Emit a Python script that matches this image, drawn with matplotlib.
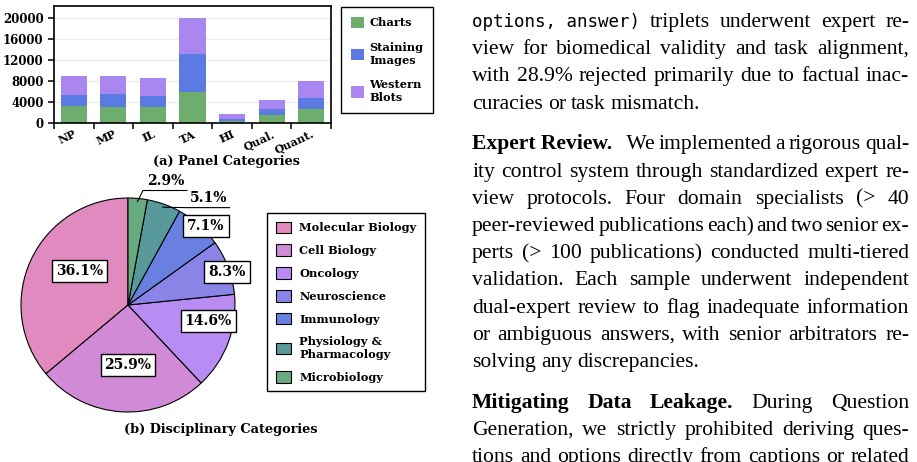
import numpy as np
import matplotlib
matplotlib.use('Agg')
import matplotlib.pyplot as plt

# Panel categories (stacked bars)
categories = ['NP', 'MP', 'IL', 'TA', 'HI', 'Qual.', 'Quant.']
charts = [3200, 3000, 3000, 5850, 300, 1450, 2600]
staining = [2100, 2500, 2100, 7250, 400, 1150, 2100]
western = [3600, 3400, 3400, 6900, 950, 1700, 3250]
panel_labels = ['Charts', 'Staining\nImages', 'Western\nBlots']
panel_colors = ['#6dae6f', '#5b7be3', '#a986f0']

# Disciplinary categories (pie)
disciplines = ['Molecular Biology', 'Cell Biology', 'Oncology', 'Neuroscience',
               'Immunology', 'Physiology &\nPharmacology', 'Microbiology']
shares = [36.1, 25.9, 14.6, 8.3, 7.1, 5.1, 2.9]
pie_colors = ['#e08ac0', '#d08ad6', '#b88cf2', '#8a84e6', '#6a80e0', '#58999b', '#68aa7f']

W, H = 917, 462
plt.rcParams['font.family'] = 'DejaVu Serif'
plt.rcParams['font.weight'] = 'bold'

fig = plt.figure(figsize=(W / 100, H / 100), dpi=100)

# ---- (a) stacked bars
ax = fig.add_axes([54 / W, 1 - 123 / H, 277 / W, 117 / H])
x = np.arange(len(categories))
b1 = ax.bar(x, charts, width=0.66, color=panel_colors[0], zorder=2)
b2 = ax.bar(x, staining, width=0.66, bottom=charts, color=panel_colors[1], zorder=2)
b3 = ax.bar(x, western, width=0.66, bottom=np.add(charts, staining), color=panel_colors[2], zorder=2)
ax.set_xlim(-0.5, len(categories) - 0.5)
ax.set_ylim(0, 22300)
ax.set_yticks(range(0, 20001, 4000))
ax.yaxis.grid(True, color='#ebebeb', linewidth=0.8, zorder=0)
ax.set_xticks(np.arange(-0.5, len(categories), 1.0))
ax.set_xticklabels([])
ax.set_xticks(x, minor=True)
ax.set_xticklabels(categories, minor=True, rotation=25, ha='right', rotation_mode='anchor', fontsize=8)
ax.tick_params(axis='x', which='minor', length=0, pad=4)
ax.tick_params(axis='both', which='major', length=4, width=1.1, labelsize=8.5)
for s in ax.spines.values():
    s.set_linewidth(1.2)
ax.legend([b1, b2, b3], panel_labels, loc='upper left', bbox_to_anchor=(341 / W, 1 - 7 / H),
          bbox_transform=fig.transFigure, borderaxespad=0, fancybox=False, edgecolor='black',
          framealpha=1, fontsize=8.2, labelspacing=1.2, handlelength=1.2, handleheight=1.2,
          borderpad=0.85, handletextpad=0.45).get_frame().set_linewidth(1.0)
fig.text(226 / W, 1 - 161 / H, '(a) Panel Categories', ha='center', va='center', fontsize=9.3)

# ---- (b) pie
r = 107
cx, cy = 128, 305
ax2 = fig.add_axes([0, 1 - 420 / H, 260 / W, 250 / H])
wedges, _ = ax2.pie(shares, colors=pie_colors, startangle=90, counterclock=True, radius=1,
                    wedgeprops=dict(edgecolor='black', linewidth=0.8))
ax2.set_xlim((0 - cx) / r, (260 - cx) / r)
ax2.set_ylim((cy - 420) / r, (cy - 170) / r)
ax2.set_aspect('auto')
ax2.axis('off')

label_pos = [(-0.45, 0.32), (0.0, -0.56), (0.75, -0.15), (0.925, 0.31), (0.73, 0.74),
             (0.75, 1.0), (0.35, 1.16)]
boxed = [True, True, True, True, True, False, False]
for w, v, (lx, ly), bx in zip(wedges, shares, label_pos, boxed):
    txt = f'{v:.1f}%'
    if bx:
        ax2.text(lx, ly, txt, ha='center', va='center', fontsize=10,
                 bbox=dict(boxstyle='square,pad=0.28', fc='white', ec='black', lw=1.0))
    else:
        ax2.text(lx, ly, txt, ha='center', va='center', fontsize=10)
        ang = np.deg2rad((w.theta1 + w.theta2) / 2)
        rr = 0.97
        under = ly - 0.09
        ax2.plot([rr * np.cos(ang), lx - 0.21, lx + 0.2], [rr * np.sin(ang), under, under],
                 color='black', lw=0.8)

fig.legend(wedges, disciplines, loc='upper left', bbox_to_anchor=(267 / W, 1 - 213 / H),
           borderaxespad=0, fancybox=False, edgecolor='black', framealpha=1, fontsize=8.2,
           labelspacing=1.0, handlelength=1.4, handleheight=1.15, borderpad=0.75,
           handletextpad=0.7).get_frame().set_linewidth(1.0)
fig.text(221 / W, 1 - 430 / H, '(b) Disciplinary Categories', ha='center', va='center', fontsize=9.3)

# ---- body text of the page (justified)
X0, X1 = 472, 909
styles = {
    'r': dict(family='Liberation Serif', weight='normal', size=15.6),
    'b': dict(family='Liberation Serif', weight='bold', size=15.6),
    'm': dict(family='DejaVu Sans Mono', weight='normal', size=12.6),
}
lines = [
    ([('options, answer)', 'm'), ('triplets', 'r'), ('underwent', 'r'), ('expert', 'r'), ('re-', 'r')], True),
    ([(w, 'r') for w in 'view for biomedical validity and task alignment,'.split()], True),
    ([(w, 'r') for w in 'with 28.9% rejected primarily due to factual inac-'.split()], True),
    ([(w, 'r') for w in 'curacies or task mismatch.'.split()], False),
    None,
    ([('Expert Review.', 'b'), ('  We', 'r')] + [(w, 'r') for w in 'implemented a rigorous qual-'.split()], True),
    ([(w, 'r') for w in 'ity control system through standardized expert re-'.split()], True),
    ([(w, 'r') for w in 'view protocols.  Four domain specialists (> 40'.split()], True),
    ([(w, 'r') for w in 'peer-reviewed publications each) and two senior ex-'.split()], True),
    ([(w, 'r') for w in 'perts (> 100 publications) conducted multi-tiered'.split()], True),
    ([(w, 'r') for w in 'validation.  Each sample underwent independent'.split()], True),
    ([(w, 'r') for w in 'dual-expert review to flag inadequate information'.split()], True),
    ([(w, 'r') for w in 'or ambiguous answers, with senior arbitrators re-'.split()], True),
    ([(w, 'r') for w in 'solving any discrepancies.'.split()], False),
    None,
    ([(w, 'b') for w in 'Mitigating Data Leakage.'.split()] + [(w, 'r') for w in 'During Question'.split()], True),
    ([(w, 'r') for w in 'Generation, we strictly prohibited deriving ques-'.split()], True),
    ([(w, 'r') for w in 'tions and options directly from captions or related'.split()], True),
]

renderer = fig.canvas.get_renderer()
L = 27.2
y = 27
for item in lines:
    if item is None:
        y += 0.5 * L
        continue
    tokens, justify = item
    texts = [fig.text(0, 1 - y / H, word, ha='left', va='baseline', **styles[st]) for word, st in tokens]
    widths = [t.get_window_extent(renderer).width for t in texts]
    gap = (X1 - X0 - sum(widths)) / (len(texts) - 1) if justify else 5.0
    xx = X0
    for t, wd in zip(texts, widths):
        t.set_x(xx / W)
        xx += wd + gap
    y += L

fig.savefig('out.png', dpi=100)
